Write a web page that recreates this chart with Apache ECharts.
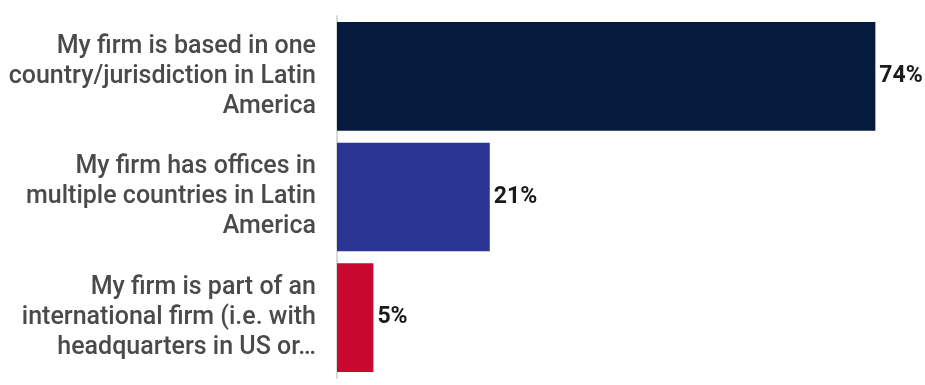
<!DOCTYPE html>
<html><head><meta charset="utf-8">
<script src="https://cdn.jsdelivr.net/npm/echarts@6/dist/echarts.min.js"></script>
<style>html,body{margin:0;padding:0;background:#fff}#c{width:925px;height:385px}</style>
</head><body><div id="c"></div>
<script>
const categories = [
  "My firm is based in one\ncountry/jurisdiction in Latin\nAmerica",
  "My firm has offices in\nmultiple countries in Latin\nAmerica",
  "My firm is part of an\ninternational firm (i.e. with\nheadquarters in US or…"
];
const values = [74, 21, 5];
const colors = ["#051a3d", "#2b3593", "#c8082e"];

const chart = echarts.init(document.getElementById('c'), null, {renderer: 'canvas'});
chart.setOption({
  animation: false,
  grid: {left: 337, right: 6, top: 16, bottom: 7},
  xAxis: {type: 'value', min: 0, max: 80, show: false},
  yAxis: {
    type: 'category', data: categories, inverse: true,
    axisLine: {show: true, lineStyle: {color: '#d9d9d9', width: 2}},
    axisTick: {show: false},
    axisLabel: {margin: 21, color: '#4a4a4a', fontFamily: 'Roboto', fontWeight: 500, fontSize: 25, lineHeight: 30, align: 'right'}
  },
  series: [{
    type: 'bar', barCategoryGap: '10%',
    data: values.map((v, i) => ({value: v, itemStyle: {color: colors[i]}})),
    label: {show: true, position: 'right', distance: 4, formatter: '{c}%', color: '#1a1a1a', fontFamily: 'Roboto', fontWeight: 'bold', fontSize: 23}
  }]
});
</script></body></html>
